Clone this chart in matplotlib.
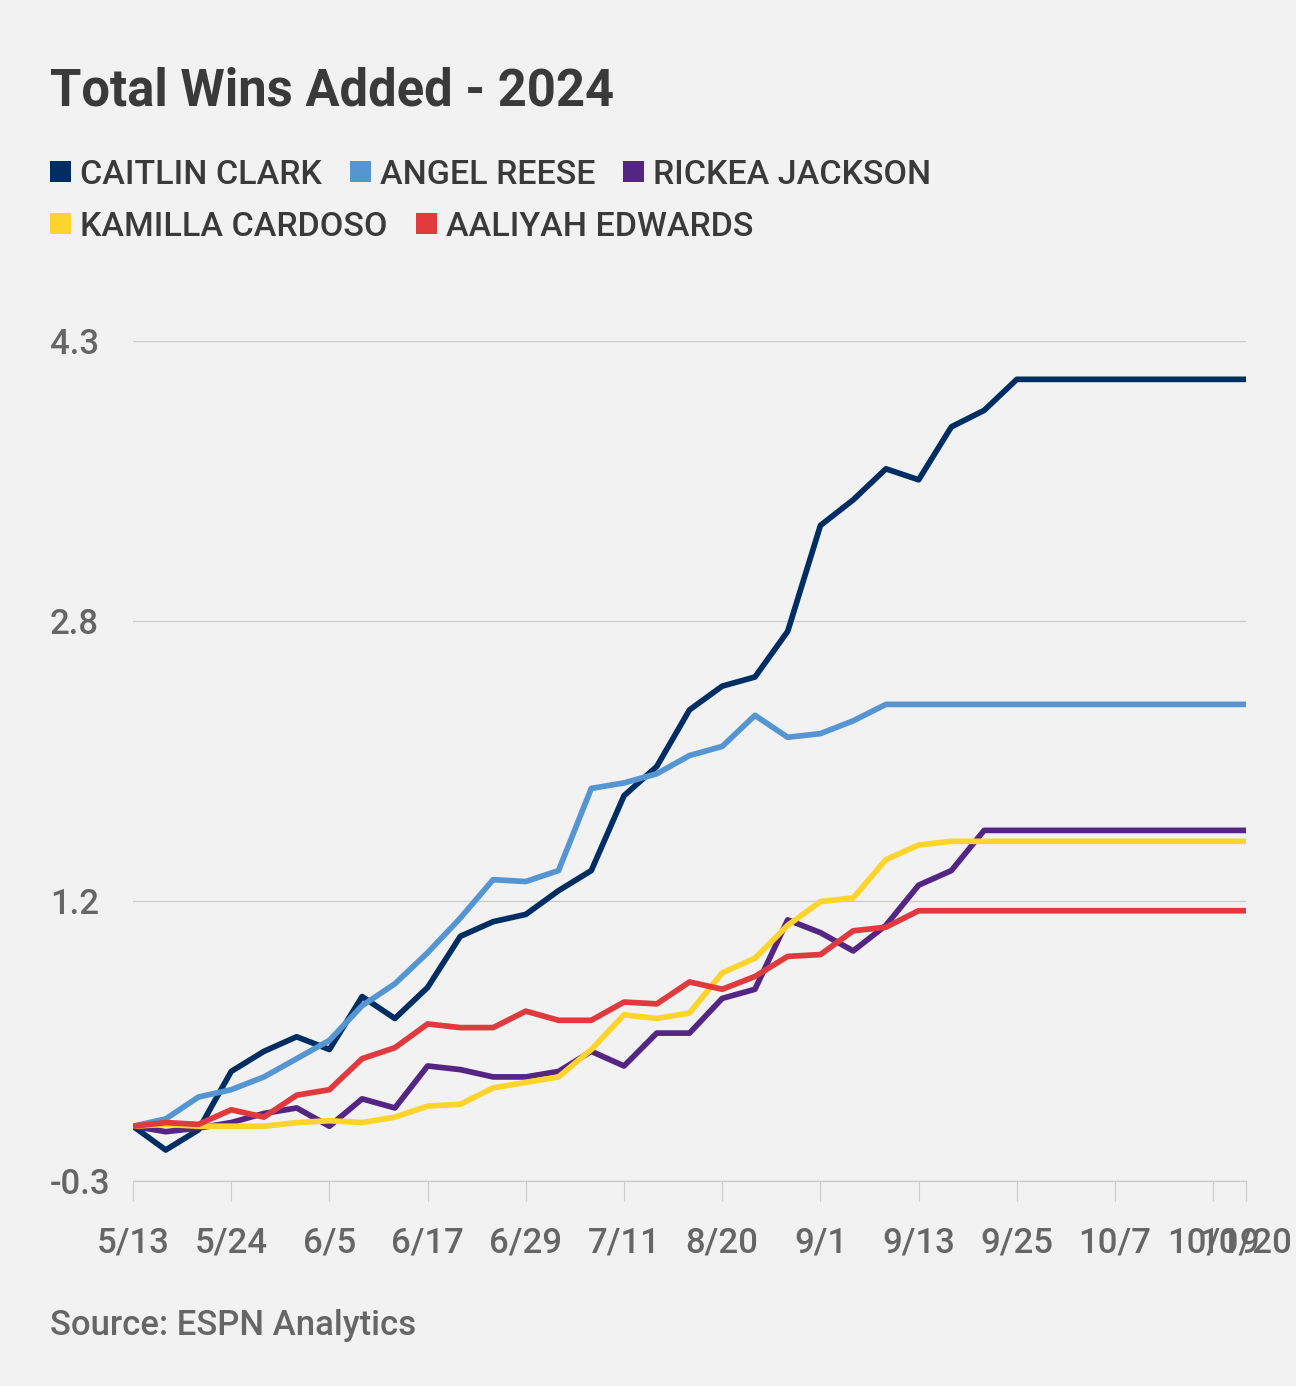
import matplotlib
matplotlib.use("Agg")
import matplotlib.pyplot as plt
from matplotlib.patches import Rectangle

# ---------------------------------------------------------------
# data
# ---------------------------------------------------------------
DATES = [
    '5/13', '5/17', '5/20', '5/24', '5/28', '6/1', '6/5', '6/9', '6/13',
    '6/17', '6/21', '6/25', '6/29', '7/3', '7/7', '7/11', '7/15', '8/16',
    '8/20', '8/24', '8/28', '9/1', '9/5', '9/9', '9/13', '9/17', '9/21',
    '9/25', '9/29', '10/3', '10/7', '10/11', '10/15', '10/19', '10/20'
]

CAITLIN_CLARK = [
    0.00, -0.13, -0.02, 0.30, 0.41, 0.49, 0.42, 0.71, 0.59, 0.76, 1.04,
    1.12, 1.16, 1.29, 1.40, 1.81, 1.97, 2.28, 2.41, 2.46, 2.71, 3.29,
    3.43, 3.60, 3.54, 3.83, 3.92, 4.09, 4.09, 4.09, 4.09, 4.09, 4.09,
    4.09, 4.09
]
ANGEL_REESE = [
    0.00, 0.04, 0.16, 0.20, 0.27, 0.37, 0.47, 0.66, 0.78, 0.95, 1.14,
    1.35, 1.34, 1.40, 1.85, 1.88, 1.93, 2.03, 2.08, 2.25, 2.13, 2.15,
    2.22, 2.31, 2.31, 2.31, 2.31, 2.31, 2.31, 2.31, 2.31, 2.31, 2.31,
    2.31, 2.31
]
RICKEA_JACKSON = [
    0.00, -0.03, -0.01, 0.02, 0.07, 0.10, 0.00, 0.15, 0.10, 0.33, 0.31,
    0.27, 0.27, 0.30, 0.41, 0.33, 0.51, 0.51, 0.70, 0.75, 1.13, 1.06,
    0.96, 1.10, 1.32, 1.40, 1.62, 1.62, 1.62, 1.62, 1.62, 1.62, 1.62,
    1.62, 1.62
]
KAMILLA_CARDOSO = [
    0.00, 0.01, 0.00, 0.00, 0.00, 0.02, 0.03, 0.02, 0.05, 0.11, 0.12,
    0.21, 0.24, 0.27, 0.42, 0.61, 0.59, 0.62, 0.84, 0.92, 1.10, 1.23,
    1.25, 1.46, 1.54, 1.56, 1.56, 1.56, 1.56, 1.56, 1.56, 1.56, 1.56,
    1.56, 1.56
]
AALIYAH_EDWARDS = [
    0.00, 0.02, 0.01, 0.09, 0.05, 0.17, 0.20, 0.37, 0.43, 0.56, 0.54,
    0.54, 0.63, 0.58, 0.58, 0.68, 0.67, 0.79, 0.75, 0.82, 0.93, 0.94,
    1.07, 1.09, 1.18, 1.18, 1.18, 1.18, 1.18, 1.18, 1.18, 1.18, 1.18,
    1.18, 1.18
]

PLAYERS = ['CAITLIN CLARK', 'ANGEL REESE', 'RICKEA JACKSON',
           'KAMILLA CARDOSO', 'AALIYAH EDWARDS']
SERIES = [CAITLIN_CLARK, ANGEL_REESE, RICKEA_JACKSON,
          KAMILLA_CARDOSO, AALIYAH_EDWARDS]
COLORS = ['#002d62', '#5596d2', '#552583', '#fdd42b', '#e03a3e']

Y_MIN, Y_MAX = -0.3, 4.3
N_YTICKS = 4

# ---------------------------------------------------------------
# figure
# ---------------------------------------------------------------
BG = '#f2f2f2'
FONT = ['Roboto', 'DejaVu Sans']
plt.rcParams['font.family'] = FONT

W, H = 1296, 1386
fig = plt.figure(figsize=(W / 100, H / 100), dpi=100, facecolor=BG)
ax = fig.add_axes([133 / W, 1 - 1181 / H, (1246 - 133) / W, (1181 - 341) / H])
ax.set_facecolor(BG)

x = list(range(len(DATES)))
for vals, col in zip(SERIES, COLORS):
    ax.plot(x, vals, color=col, lw=4.1, solid_capstyle='round', zorder=3)

ax.set_xlim(0, len(DATES) - 1)
ax.set_ylim(Y_MIN, Y_MAX)

step = (Y_MAX - Y_MIN) / (N_YTICKS - 1)
yticks = [Y_MIN + i * step for i in range(N_YTICKS)]
ax.set_yticks(yticks)
ax.set_yticklabels([f'{v:.1f}' for v in yticks])

xticks = list(range(0, len(DATES), 3))
if xticks[-1] != len(DATES) - 1:
    xticks.append(len(DATES) - 1)
ax.set_xticks(xticks)
ax.set_xticklabels([DATES[i] for i in xticks])

ax.grid(axis='y', color='#cccccc', lw=1, zorder=0)
for s in ['top', 'right', 'left']:
    ax.spines[s].set_visible(False)
ax.spines['bottom'].set_color('#cccccc')
ax.spines['bottom'].set_linewidth(1)

# y labels are left-aligned at x = 50 px (83 px left of the axes)
ax.tick_params(axis='y', length=0, pad=83 * 0.72, labelsize=25,
               labelcolor='#666666')
ax.tick_params(axis='x', length=14.5, width=0.8, color='#cccccc', pad=18,
               labelsize=25, labelcolor='#666666')
for lab in ax.get_yticklabels():
    lab.set_horizontalalignment('left')
for lab in ax.get_xticklabels() + ax.get_yticklabels():
    lab.set_fontweight('medium')

# title
fig.text(50 / W, 1 - 105 / H, 'Total Wins Added - 2024', fontsize=36.5,
         fontweight='bold', color='#3a3a3a', va='baseline', ha='left')

# legend drawn by hand (two rows)
renderer = fig.canvas.get_renderer()
rows = [[0, 1, 2], [3, 4]]
row_base = [184, 236]
sq = 21
for r, idxs in enumerate(rows):
    cx = 50
    for i in idxs:
        top = row_base[r] - 23
        fig.patches.append(Rectangle((cx / W, 1 - (top + sq) / H), sq / W, sq / H,
                                     transform=fig.transFigure,
                                     facecolor=COLORS[i], edgecolor='none'))
        t = fig.text((cx + sq + 9) / W, 1 - row_base[r] / H, PLAYERS[i],
                     fontsize=24.5, fontweight='medium', color='#3a3a3a',
                     va='baseline', ha='left')
        bb = t.get_window_extent(renderer)
        cx = bb.x1 + 28

fig.text(50 / W, 1 - 1335 / H, 'Source: ESPN Analytics', fontsize=25,
         fontweight='medium', color='#666666', va='baseline', ha='left')

fig.savefig('out.png', dpi=100, facecolor=BG)
